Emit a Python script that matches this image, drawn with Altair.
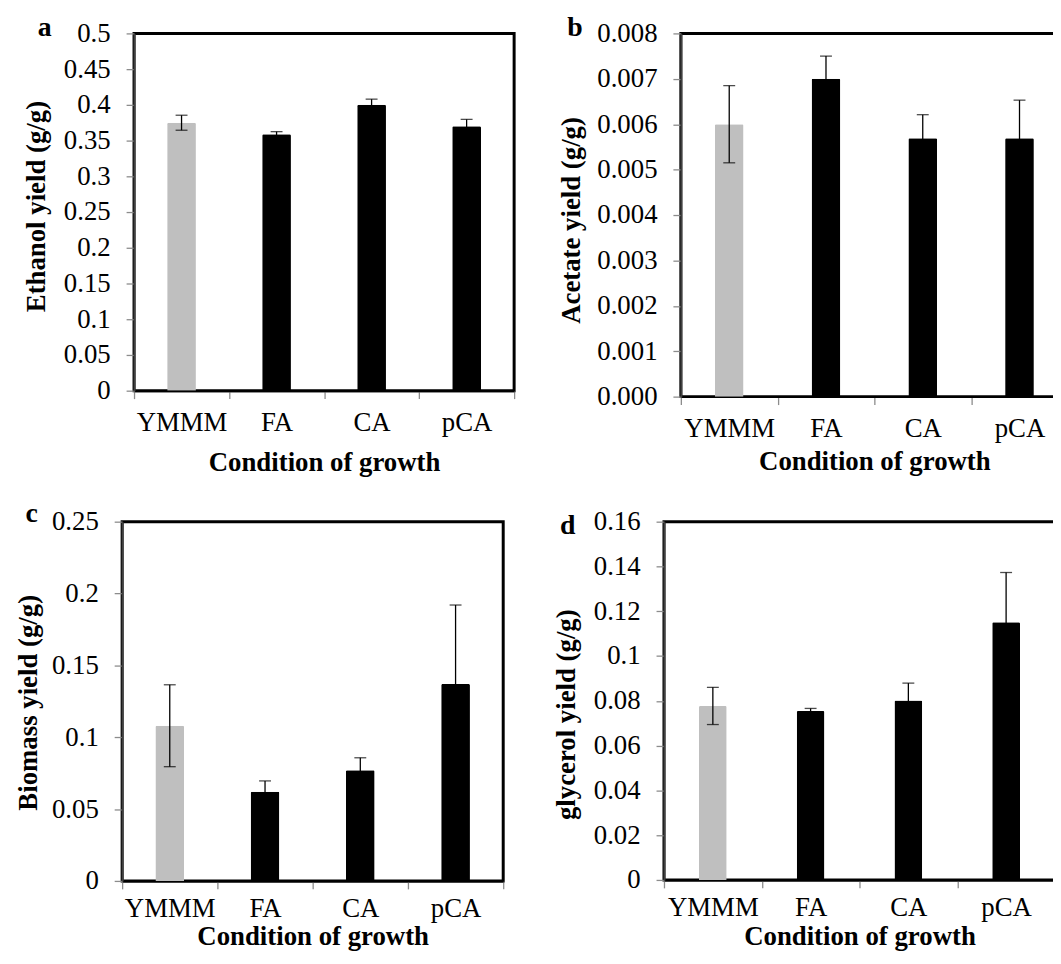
import altair as alt
import pandas as pd

conditions = ["YMMM", "FA", "CA", "pCA"]

ethanol = [0.375, 0.359, 0.400, 0.370]
ethanol_err = [0.0105, 0.0035, 0.008, 0.0097]
acetate = [0.0060, 0.0070, 0.00569, 0.00569]
acetate_err = [0.00085, 0.0005, 0.00052, 0.00084]
biomass = [0.108, 0.062, 0.077, 0.137]
biomass_err = [0.0285, 0.0076, 0.0087, 0.055]
glycerol = [0.0777, 0.0754, 0.0801, 0.1151]
glycerol_err = [0.0083, 0.0012, 0.0078, 0.0222]

ticks_a = [0, 0.05, 0.1, 0.15, 0.2, 0.25, 0.3, 0.35, 0.4, 0.45, 0.5]
ticks_b = [0, 0.001, 0.002, 0.003, 0.004, 0.005, 0.006, 0.007, 0.008]
ticks_c = [0, 0.05, 0.1, 0.15, 0.2, 0.25]
ticks_d = [0, 0.02, 0.04, 0.06, 0.08, 0.1, 0.12, 0.14, 0.16]

FONT = "Liberation Serif"
XTITLE = "Condition of growth"


def panel(letter, vals, errs, ticks, fmt, ytitle, w, h, ytx, yty, xty, xlp, lx, ly, barsize):
    df = pd.DataFrame({
        "cond": conditions,
        "val": vals,
        "lo": [v - e for v, e in zip(vals, errs)],
        "hi": [v + e for v, e in zip(vals, errs)],
    })
    xscale = alt.Scale(paddingInner=0, paddingOuter=0)
    xaxis = alt.Axis(title=XTITLE, labelAngle=0, tickBand="extent", labelPadding=xlp,
                     titleY=xty, titleBaseline="alphabetic",
                     domainColor="black", domainWidth=2)
    yscale = alt.Scale(domain=[0, ticks[-1]], nice=False, zero=True)
    yaxis = alt.Axis(values=ticks, format=fmt, title=ytitle, titleX=ytx, titleY=yty,
                     titleAngle=-90, titleAlign="center", titleBaseline="alphabetic",
                     labelPadding=16, domainColor="#404040", domainWidth=2)

    def X():
        return alt.X("cond:N", sort=conditions, scale=xscale, axis=xaxis)

    base = alt.Chart(df)
    bars = base.mark_bar(size=barsize, cornerRadiusTopLeft=1.5, cornerRadiusTopRight=1.5).encode(
        x=X(),
        y=alt.Y("val:Q", scale=yscale, axis=yaxis, title=ytitle),
        color=alt.Color("cond:N", scale=alt.Scale(domain=conditions,
                        range=["#BFBFBF", "#000000", "#000000", "#000000"]), legend=None),
    )
    rule = base.mark_rule(color="black", strokeWidth=1.3).encode(
        x=X(),
        y=alt.Y("lo:Q", scale=yscale, axis=yaxis, title=ytitle),
        y2="hi:Q",
    )
    cap_hi = base.mark_tick(color="black", size=12, thickness=1.3).encode(
        x=X(), y=alt.Y("hi:Q", scale=yscale, axis=yaxis, title=ytitle))
    cap_lo = base.mark_tick(color="black", size=12, thickness=1.3).encode(
        x=X(), y=alt.Y("lo:Q", scale=yscale, axis=yaxis, title=ytitle))
    lab = alt.Chart(pd.DataFrame({"t": [letter]})).mark_text(
        font=FONT, fontSize=28, fontWeight="bold", align="left",
        baseline="alphabetic", color="black").encode(
        text="t:N", x=alt.value(lx), y=alt.value(ly))
    return alt.layer(bars, rule, cap_hi, cap_lo, lab).properties(
        width=w, height=h,
        view=alt.ViewBackground(stroke="black", strokeWidth=3))


pa = panel("a", ethanol, ethanol_err, ticks_a, "~g", "Ethanol yield (g/g)",
           383, 360, -90, 174, 80.6, 11, -97, 2.5, 29)
pb = panel("b", acetate, acetate_err, ticks_b, ".3f", "Acetate yield (g/g)",
           390, 366, -102.6, 188, 73.7, 11, -114.4, 2.2, 29)
pc = panel("c", biomass, biomass_err, ticks_c, "~g", "Biomass yield (g/g)",
           384, 362, -86.5, 182, 64, 7, -97.3, 0, 29)
pd_ = panel("d", glycerol, glycerol_err, ticks_d, "~g", "glycerol yield (g/g)",
            394, 361, -90.3, 194, 65, 7, -104.7, 12.3, 28)


def spacer(w):
    return alt.Chart(pd.DataFrame({"s": [0]})).mark_point(opacity=0).properties(
        width=w, height=1, view=alt.ViewBackground(stroke="transparent"))


row1 = alt.hconcat(spacer(12), alt.hconcat(pa, pb, spacing=38), spacing=0)
row2 = alt.hconcat(spacer(2), alt.hconcat(pc, pd_, spacing=45), spacing=0)

chart = alt.vconcat(row1, row2, spacing=20).properties(
    autosize=alt.AutoSizeParams(type="none"),
    padding={"left": 0, "top": 22, "right": 1053, "bottom": 921},
).configure_axis(
    labelFont=FONT, labelFontSize=27, labelColor="black",
    titleFont=FONT, titleFontSize=27, titleFontWeight="bold", titleColor="black",
    tickColor="#8c8c8c", tickWidth=1.3, tickSize=8, grid=False,
).configure_view(stroke="transparent")

chart.save("out.html", embed_options={"renderer": "svg", "actions": False})
